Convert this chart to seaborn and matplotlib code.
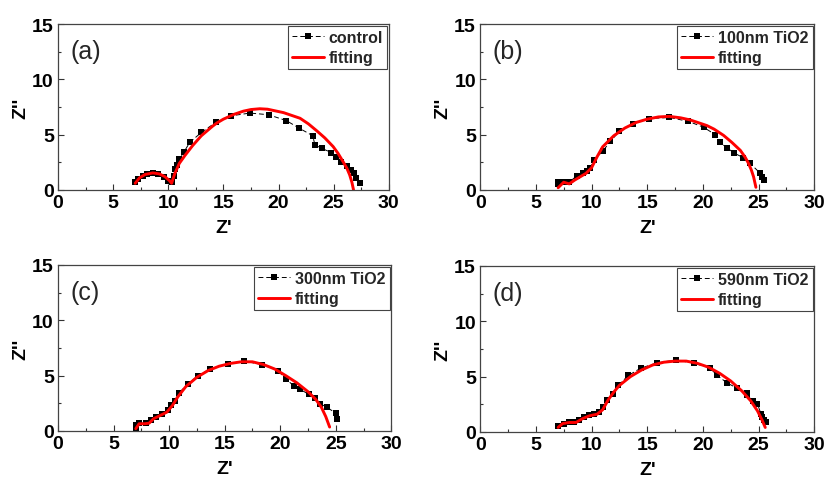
import numpy as np
import pandas as pd
import matplotlib
matplotlib.use("Agg")
import matplotlib.pyplot as plt
import seaborn as sns

# ---- data (Z' , Z'') ----
a_zr = [7.0, 7.3, 7.7, 8.1, 8.6, 9.1, 9.6, 10.0, 10.3, 10.5, 10.6, 10.8, 11.0, 11.4, 11.95,
        13.0, 14.3, 15.7, 17.4, 19.1, 20.7, 21.9, 23.1, 23.3, 23.9, 24.8, 25.2, 25.7, 26.2,
        26.6, 26.8, 27.0, 27.35]
a_zi = [0.7, 1.0, 1.3, 1.45, 1.5, 1.4, 1.15, 0.85, 0.7, 1.3, 1.9, 2.3, 2.8, 3.4, 4.3,
        5.2, 6.1, 6.7, 6.95, 6.8, 6.27, 5.57, 4.9, 4.07, 3.77, 3.37, 3.0, 2.56, 2.17,
        1.8, 1.5, 1.05, 0.66]
a_fit_zr = [7.0, 7.4, 7.9, 8.6, 9.2, 9.7, 10.1, 10.3, 10.6, 11.0, 11.5, 12.2, 13.0, 14.0, 14.4,
            15.0, 16.0, 16.8, 17.5, 18.3, 19.0, 20.45, 21.95, 22.7, 23.45, 24.2, 24.95, 25.4,
            25.85, 26.2, 26.45, 26.65, 26.8]
a_fit_zi = [0.6, 1.1, 1.4, 1.54, 1.45, 1.2, 0.85, 0.6, 1.5, 2.4, 3.1, 4.0, 4.9, 5.75, 6.05,
            6.4, 6.85, 7.12, 7.27, 7.34, 7.3, 6.99, 6.48, 5.98, 5.36, 4.7, 3.92, 3.3,
            2.56, 1.95, 1.36, 0.7, 0.0]

b_zr = [7.0, 7.0, 7.5, 8.0, 8.7, 9.2, 9.6, 9.9, 10.2, 11.0, 11.7, 12.5, 13.7, 15.2, 17.0,
        18.7, 20.06, 21.1, 21.5, 22.15, 22.8, 23.6, 24.2, 25.1, 25.3, 25.5]
b_zi = [0.5, 0.72, 0.72, 0.7, 1.3, 1.5, 1.7, 2.0, 2.7, 3.5, 4.4, 5.3, 6.0, 6.45, 6.55,
        6.2, 5.67, 5.0, 4.33, 3.82, 3.34, 2.93, 2.45, 1.55, 1.19, 0.9]
b_fit_zr = [7.0, 7.5, 8.0, 8.5, 9.0, 9.5, 10.0, 10.5, 11.0, 12.0, 13.0, 14.0, 15.0, 16.0,
            17.0, 18.0, 18.86, 20.36, 21.0, 21.86, 22.6, 23.36, 23.8, 24.1, 24.35, 24.55, 24.76]
b_fit_zi = [0.2, 0.7, 0.55, 0.9, 1.2, 1.5, 2.0, 3.0, 3.9, 4.9, 5.6, 6.1, 6.4, 6.6,
            6.65, 6.52, 6.33, 5.82, 5.5, 4.93, 4.3, 3.58, 2.95, 2.39, 1.8, 1.19, 0.24]

c_zr = [7.0, 7.0, 7.3, 7.9, 8.4, 8.8, 9.4, 9.9, 10.2, 10.5, 10.9, 11.7, 12.6, 13.7, 15.3,
        16.75, 18.4, 19.8, 20.5, 21.2, 21.8, 22.6, 23.1, 23.6, 24.2, 25.0, 25.1]
c_zi = [0.2, 0.5, 0.7, 0.7, 1.0, 1.25, 1.55, 1.85, 2.3, 2.75, 3.45, 4.25, 5.0, 5.6, 6.05,
        6.3, 6.0, 5.45, 4.7, 4.1, 3.75, 3.3, 3.0, 2.45, 2.15, 1.6, 1.1]
c_fit_zr = [7.0, 7.3, 7.8, 8.2, 8.6, 9.2, 9.8, 10.3, 10.8, 11.5, 12.5, 13.5, 14.5, 15.5,
            16.5, 17.5, 18.5, 19.5, 20.5, 21.5, 22.5, 23.2, 23.7, 24.1, 24.45]
c_fit_zi = [0.2, 0.65, 0.65, 0.7, 1.1, 1.4, 1.7, 2.3, 3.1, 4.0, 4.85, 5.45, 5.85, 6.1,
            6.25, 6.25, 6.0, 5.6, 5.0, 4.35, 3.55, 2.85, 2.15, 1.3, 0.35]

d_zr = [6.95, 7.5, 8.0, 8.4, 8.9, 9.3, 9.8, 10.2, 10.7, 11.05, 11.4, 11.9, 12.4, 13.3, 14.4,
        15.9, 17.6, 19.2, 20.6, 21.3, 22.2, 23.1, 23.95, 24.0, 24.5, 24.9, 25.2, 25.35, 25.5,
        25.65]
d_zi = [0.5, 0.75, 0.9, 0.9, 1.05, 1.35, 1.5, 1.65, 1.8, 2.25, 2.9, 3.45, 4.2, 5.1, 5.75,
        6.25, 6.5, 6.2, 5.8, 5.1, 4.4, 3.95, 3.5, 3.3, 2.75, 2.55, 1.65, 1.35, 1.05, 0.9]
d_fit_zr = [7.0, 7.4, 8.0, 8.6, 9.2, 9.8, 10.5, 11.0, 11.5, 12.0, 12.5, 13.5, 14.5, 15.5,
            16.5, 17.5, 18.5, 19.5, 20.5, 21.5, 22.5, 23.5, 24.3, 24.9, 25.3, 25.6]
d_fit_zi = [0.4, 0.75, 0.85, 0.85, 1.2, 1.45, 1.6, 2.0, 2.9, 3.6, 4.2, 5.0, 5.6, 6.05,
            6.3, 6.4, 6.4, 6.2, 5.85, 5.3, 4.6, 3.7, 2.8, 1.9, 1.1, 0.4]

panel_tags = ["(a)", "(b)", "(c)", "(d)"]
sample_names = ["control", "100nm TiO2", "300nm TiO2", "590nm TiO2"]

sns.set_style("ticks")
plt.rcParams["font.family"] = ["Liberation Sans", "DejaVu Sans"]
plt.rcParams["font.weight"] = "bold"
plt.rcParams["axes.labelweight"] = "bold"

fig = plt.figure(figsize=(8.25, 4.81), dpi=100)
positions = [
    [0.0703, 0.603, 0.401, 0.345],
    [0.582, 0.603, 0.405, 0.345],
    [0.0703, 0.102, 0.404, 0.345],
    [0.582, 0.100, 0.405, 0.345],
]
panels = [
    (a_zr, a_zi, a_fit_zr, a_fit_zi),
    (b_zr, b_zi, b_fit_zr, b_fit_zi),
    (c_zr, c_zi, c_fit_zr, c_fit_zi),
    (d_zr, d_zi, d_fit_zr, d_fit_zi),
]

for pos, (zr, zi, fzr, fzi), tag, name in zip(positions, panels, panel_tags, sample_names):
    ax = fig.add_axes(pos)
    sns.lineplot(x=zr, y=zi, ax=ax, sort=False, estimator=None, color="black",
                 linewidth=0.7, linestyle=(0, (5, 3)), marker="s", markersize=4.5,
                 markeredgewidth=0, label=name)
    sns.lineplot(x=fzr, y=fzi, ax=ax, sort=False, estimator=None, color="#ff0000",
                 linewidth=2.1, label="fitting")

    ax.set_xlim(0, 30)
    ax.set_ylim(0, 15)
    ax.set_xticks([0, 5, 10, 15, 20, 25, 30])
    ax.set_yticks([0, 5, 10, 15])
    ax.set_xticks(np.arange(2.5, 30, 5), minor=True)
    ax.set_yticks(np.arange(2.5, 15, 5), minor=True)
    ax.tick_params(which="both", direction="in", top=False, right=False, color="#333333")
    ax.tick_params(which="major", length=4, width=0.8, labelsize=14, pad=3,
                   labelcolor="black")
    ax.tick_params(which="minor", length=2.5, width=0.8)
    plt.setp(ax.get_xticklabels() + ax.get_yticklabels(), fontweight="bold")
    for sp in ax.spines.values():
        sp.set_visible(True)
        sp.set_color("#444444")
        sp.set_linewidth(0.9)

    ax.set_xlabel("Z'", fontsize=14, labelpad=6, color="black")
    ax.set_ylabel("Z''", fontsize=14, labelpad=2, color="black")
    ax.text(1.1, 12.6, tag, fontsize=18, fontweight="normal", va="center", ha="left")

    leg = ax.legend(loc="upper right", borderaxespad=0.1, fontsize=11.5, handlelength=2.0,
                    handletextpad=0.3, borderpad=0.25, labelspacing=0.35, fancybox=False,
                    framealpha=1, edgecolor="#444444", numpoints=1)
    leg.get_frame().set_linewidth(0.8)

fig.savefig("out.png", dpi=100)
